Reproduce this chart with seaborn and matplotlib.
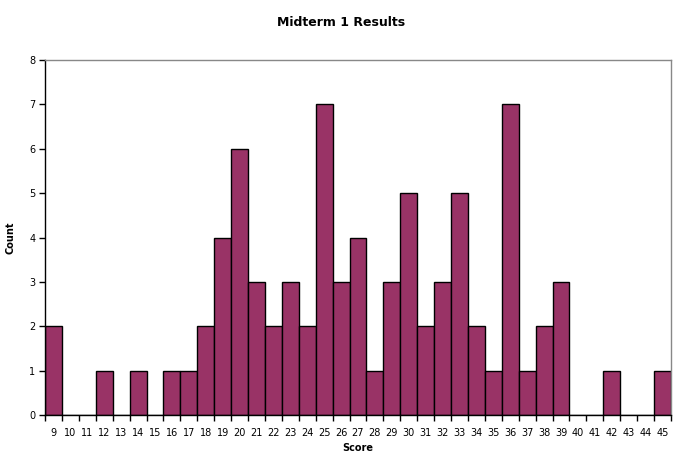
import numpy as np
import pandas as pd
import matplotlib
matplotlib.use("Agg")
import matplotlib.pyplot as plt
import seaborn as sns

# Data
scores = list(range(9, 46))
counts = [2, 0, 0, 1, 0, 1, 0, 1, 1, 2, 4, 6, 3, 2, 3, 2, 7, 3, 4, 1,
          3, 5, 2, 3, 5, 2, 1, 7, 1, 2, 3, 0, 0, 1, 0, 0, 1]
y_ticks = list(range(0, 9))

df = pd.DataFrame({"Score": [str(s) for s in scores], "Count": counts})

sns.set_style("ticks")
plt.rcParams["font.family"] = ["DejaVu Sans"]
plt.rcParams["text.color"] = "black"
plt.rcParams["axes.labelcolor"] = "black"
plt.rcParams["xtick.color"] = "black"
plt.rcParams["ytick.color"] = "black"

fig = plt.figure(figsize=(6.83, 4.67), dpi=100)
ax = fig.add_axes([45 / 683, 1 - 415 / 467, (671 - 45) / 683, (415 - 60) / 467])

sns.barplot(data=df, x="Score", y="Count", color="#993366", saturation=1,
            width=1.0, edgecolor="black", linewidth=1.0, ax=ax)

ax.set_xlim(-0.5, len(scores) - 0.5)
ax.set_ylim(0, 8)
ax.set_yticks(y_ticks)
ax.tick_params(axis="y", labelsize=7, length=4, width=1,
               direction="out", left=True, pad=3)
ax.tick_params(axis="x", which="major", labelsize=7, length=0, pad=9)
ax.set_xticks(np.arange(-0.5, len(scores)), minor=True)
ax.tick_params(axis="x", which="minor", length=4, width=1,
               direction="out", bottom=True)

for side in ["left", "bottom"]:
    ax.spines[side].set_color("black")
    ax.spines[side].set_linewidth(1)
for side in ["top", "right"]:
    ax.spines[side].set_visible(True)
    ax.spines[side].set_color("#888888")
    ax.spines[side].set_linewidth(1)

ax.set_xlabel("Score", fontsize=7, fontweight="bold", labelpad=4)
ax.set_ylabel("Count", fontsize=7, fontweight="bold", labelpad=10)
fig.suptitle("Midterm 1 Results", fontsize=9, fontweight="bold", y=0.965)

fig.savefig("out.png", dpi=100)
